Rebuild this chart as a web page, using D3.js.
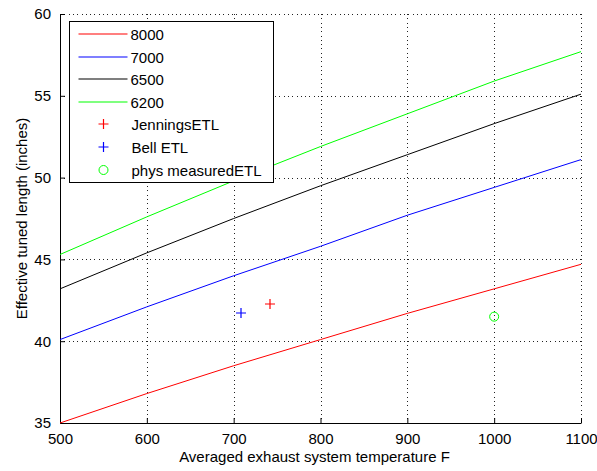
<!DOCTYPE html>
<html>
<head>
<meta charset="utf-8">
<script src="https://cdn.jsdelivr.net/npm/d3@7"></script>
<style>
  body { margin: 0; background: #fff; }
  text { font-family: Arial, "Liberation Sans", sans-serif; font-size: 15px; fill: #000; }
</style>
</head>
<body>
<div class="chart-container"></div>
<script>
//Data
const temps = [500, 600, 700, 800, 900, 1000, 1100];
const etl8000 = [35.0, 36.8, 38.5, 40.1, 41.7, 43.2, 44.7];
const etl7000 = [40.1, 42.1, 44.0, 45.8, 47.7, 49.4, 51.1];
const etl6500 = [43.2, 45.4, 47.5, 49.5, 51.4, 53.3, 55.1];
const etl6200 = [45.3, 47.6, 49.8, 51.9, 53.9, 55.9, 57.7];
const lineNames = ['8000', '7000', '6500', '6200'];
const lineColors = ['#ff0000', '#0000ff', '#000000', '#00ff00'];

// measured points: [temperature, length]
const jenningsETL = [742, 42.3];
const bellETL = [708, 41.7];
const physETL = [1000, 41.5];

const xTicks = [500, 600, 700, 800, 900, 1000, 1100];
const yTicks = [35, 40, 45, 50, 55, 60];

// 像素對齊
const px = v => Math.round(v) + 0.5;

function setupCanvas() {
    const svg_width = 597;
    const svg_height = 471;
    const margin = { top: 14, right: 16, bottom: 48, left: 60 };
    const chart_width = svg_width - (margin.left + margin.right);
    const chart_height = svg_height - (margin.top + margin.bottom);

    const svg = d3.select('.chart-container').append('svg')
        .attr('width', svg_width).attr('height', svg_height);
    const g = svg.append('g')
        .attr('transform', `translate(${margin.left},${margin.top})`);

    const xScale = d3.scaleLinear().domain([500, 1100]).range([0, chart_width]);
    const yScale = d3.scaleLinear().domain([35, 60]).range([chart_height, 0]);

    // 格線 (dotted)
    const grid = g.append('g').attr('class', 'grid')
        .style('shape-rendering', 'crispEdges');
    grid.selectAll('.vgrid').data(xTicks.slice(1)).enter()
        .append('line').attr('class', 'vgrid')
        .attr('x1', d => px(xScale(d))).attr('x2', d => px(xScale(d)))
        .attr('y1', 0).attr('y2', chart_height)
        .style('stroke', '#222').style('stroke-dasharray', '1,3.3');
    grid.selectAll('.hgrid').data(yTicks.slice(1)).enter()
        .append('line').attr('class', 'hgrid')
        .attr('x1', 0).attr('x2', chart_width)
        .attr('y1', d => px(yScale(d))).attr('y2', d => px(yScale(d)))
        .style('stroke', '#222').style('stroke-dasharray', '1,3.3');

    // axes
    const xAxis = d3.axisBottom(xScale)
        .tickValues(xTicks)
        .tickFormat(d3.format('d'))
        .tickSizeInner(-5)
        .tickSizeOuter(0)
        .tickPadding(10);
    const xAxisDraw = g.append('g')
        .attr('class', 'x axis')
        .attr('transform', `translate(0,${chart_height})`)
        .call(xAxis);

    const yAxis = d3.axisLeft(yScale)
        .tickValues(yTicks)
        .tickSizeInner(-5)
        .tickSizeOuter(0)
        .tickPadding(9);
    const yAxisDraw = g.append('g')
        .attr('class', 'y axis')
        .call(yAxis);

    [xAxisDraw, yAxisDraw].forEach(a => {
        a.selectAll('text').style('font-size', '15px')
            .style('font-family', 'Arial, "Liberation Sans", sans-serif');
        a.selectAll('line, path').style('stroke', '#000');
    });

    // curves
    const series = [etl8000, etl7000, etl6500, etl6200];
    const line = d3.line()
        .x((d, i) => xScale(temps[i]))
        .y(d => yScale(d));
    g.selectAll('.etl-line').data(series).enter()
        .append('path').attr('class', 'etl-line')
        .attr('d', line)
        .style('fill', 'none')
        .style('stroke', (d, i) => lineColors[i])
        .style('stroke-width', 1);

    // markers
    const plus = (sel, color) => sel.append('path')
        .attr('d', 'M-5,0H5M0,-5V5')
        .style('stroke', color).style('stroke-width', 1.2).style('fill', 'none');
    const jg = g.append('g').attr('transform', `translate(${Math.round(xScale(jenningsETL[0]))},${Math.round(yScale(jenningsETL[1]))})`);
    plus(jg, '#ff0000');
    const bg = g.append('g').attr('transform', `translate(${Math.round(xScale(bellETL[0]))},${Math.round(yScale(bellETL[1]))})`);
    plus(bg, '#0000ff');
    g.append('circle')
        .attr('cx', xScale(physETL[0])).attr('cy', yScale(physETL[1]))
        .attr('r', 4.5)
        .style('fill', 'none').style('stroke', '#00ff00').style('stroke-width', 1);

    // labels
    svg.append('text')
        .attr('x', margin.left + chart_width / 2 - 6)
        .attr('y', 462)
        .style('text-anchor', 'middle')
        .text('Averaged exhaust system temperature F');
    svg.append('text')
        .attr('transform', `translate(27,${margin.top + chart_height / 2}) rotate(-90)`)
        .style('text-anchor', 'middle')
        .text('Effective tuned length (inches)');

    // legend
    const legend = svg.append('g').attr('class', 'legend')
        .attr('transform', 'translate(69.5,21.5)');
    legend.append('rect')
        .attr('width', 204).attr('height', 161)
        .style('fill', '#fff').style('stroke', '#000');
    const rowY = i => 13 + i * 22.6;
    lineNames.forEach((name, i) => {
        legend.append('line')
            .attr('x1', 9).attr('x2', 58)
            .attr('y1', Math.round(rowY(i)) - 0.5).attr('y2', Math.round(rowY(i)) - 0.5)
            .style('stroke', lineColors[i]).style('stroke-width', 1.2);
        legend.append('text')
            .attr('x', 61).attr('y', rowY(i)).attr('dy', '0.36em')
            .text(name);
    });
    const markerRows = [
        { label: 'JenningsETL', color: '#ff0000', type: 'plus' },
        { label: 'Bell ETL', color: '#0000ff', type: 'plus' },
        { label: 'phys measuredETL', color: '#00ff00', type: 'circle' }
    ];
    markerRows.forEach((m, j) => {
        const i = j + 4;
        const mg = legend.append('g').attr('transform', `translate(34,${Math.round(rowY(i)) - 0.5})`);
        if (m.type === 'plus') plus(mg, m.color);
        else mg.append('circle').attr('r', 4.5)
            .style('fill', 'none').style('stroke', m.color);
        legend.append('text')
            .attr('x', 62).attr('y', rowY(i)).attr('dy', '0.36em')
            .text(m.label);
    });
}

//Main
setupCanvas();
</script>
</body>
</html>
